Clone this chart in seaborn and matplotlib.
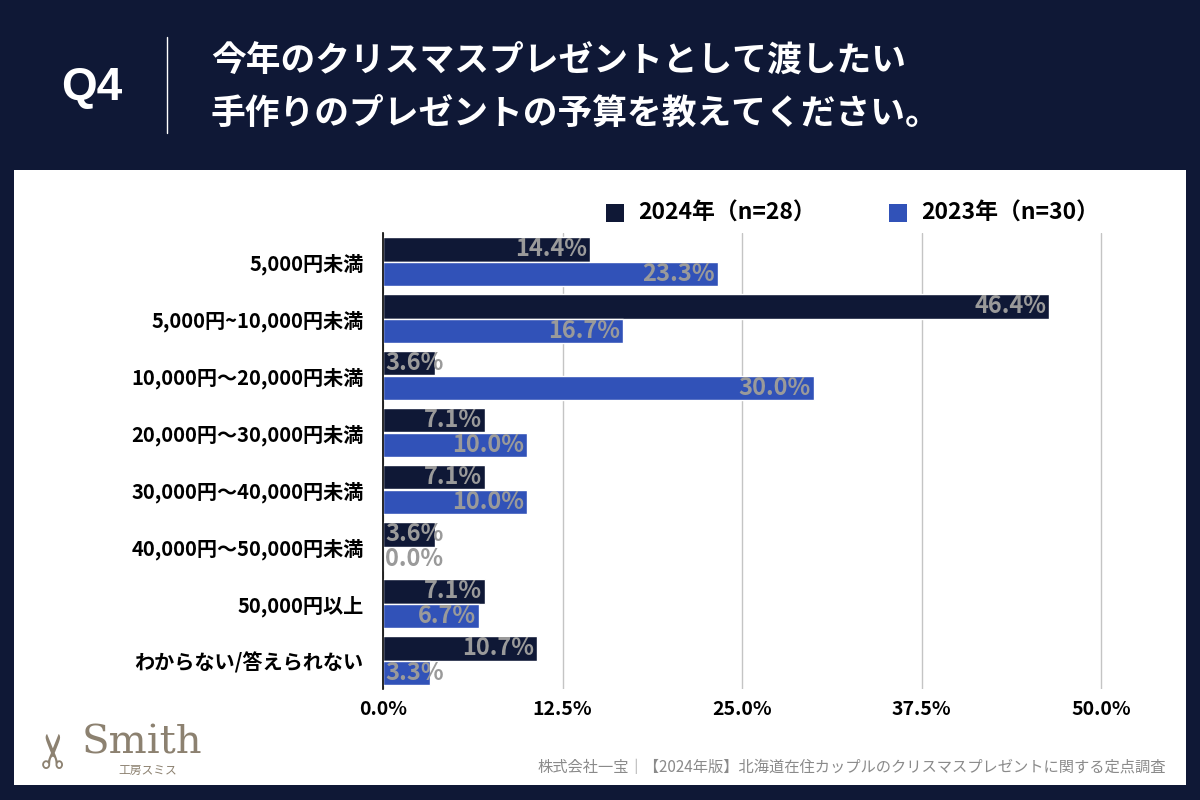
import pandas as pd
import matplotlib.pyplot as plt
import seaborn as sns
from matplotlib.patches import Rectangle

categories = ['5,000円未満', '5,000円~10,000円未満', '10,000円～20,000円未満',
              '20,000円～30,000円未満', '30,000円～40,000円未満',
              '40,000円～50,000円未満', '50,000円以上', 'わからない/答えられない']
series_names = ['2024年（n=28）', '2023年（n=30）']
values_2024 = [14.4, 46.4, 3.6, 7.1, 7.1, 3.6, 7.1, 10.7]
values_2023 = [23.3, 16.7, 30.0, 10.0, 10.0, 0.0, 6.7, 3.3]
x_ticks = [0, 12.5, 25.0, 37.5, 50.0]

NAVY = '#0f1836'
BLUE = '#3152b8'
LABEL_GRAY = '#9a9a9a'

sns.set_style('white')
plt.rcParams['font.family'] = ['Noto Sans CJK JP', 'DejaVu Sans']

df = pd.DataFrame({
    'category': categories * 2,
    'value': values_2024 + values_2023,
    'series': [series_names[0]] * len(categories) + [series_names[1]] * len(categories),
})

fig = plt.figure(figsize=(12, 8), dpi=100)
fig.patch.set_facecolor(NAVY)

# white panel
fig.patches.append(Rectangle((14 / 1200, 1 - 785 / 800), 1172 / 1200, 615 / 800,
                             transform=fig.transFigure, facecolor='white',
                             edgecolor='none', zorder=-10))

# header
fig.text(92 / 1200, 1 - 88 / 800, 'Q4', color='white', fontsize=33,
         fontweight='bold', ha='center', va='center', family='Liberation Sans')
fig.add_artist(plt.Line2D([167 / 1200, 167 / 1200], [1 - 37 / 800, 1 - 133 / 800],
                          transform=fig.transFigure, color='white', lw=1))
fig.text(211 / 1200, 1 - 60 / 800, '今年のクリスマスプレゼントとして渡したい',
         color='white', fontsize=25, fontweight='bold', va='center')
fig.text(211 / 1200, 1 - 113 / 800, '手作りのプレゼントの予算を教えてください。',
         color='white', fontsize=25, fontweight='bold', va='center')

ax = fig.add_axes([383 / 1200, 1 - 689 / 800, 797 / 1200, 456 / 800])
ax.set_facecolor('none')
sns.barplot(data=df, y='category', x='value', hue='series', orient='h',
            palette=[NAVY, BLUE], width=0.85, ax=ax, legend=False,
            saturation=1, zorder=3)

ax.set_xlim(0, 55.5)
ax.set_ylim(7.5, -0.5)
ax.set_xticks(x_ticks)
ax.set_xticklabels([f'{t:.1f}%' for t in x_ticks], fontsize=14, fontweight='bold')
ax.tick_params(axis='y', labelsize=14.5, length=0, pad=14, labelcolor='black')
ax.tick_params(axis='x', length=0, pad=8, labelcolor='black')
for lbl in ax.get_yticklabels():
    lbl.set_fontweight('bold')
ax.set_xlabel('')
ax.set_ylabel('')
ax.grid(axis='x', color='#c4c4c4', lw=1, zorder=0)
for s in ['top', 'right', 'bottom']:
    ax.spines[s].set_visible(False)
ax.spines['left'].set_color('black')
ax.spines['left'].set_linewidth(1.2)
ax.spines['left'].set_zorder(5)

for cont in ax.containers:
    for bar in cont:
        v = bar.get_width()
        yc = bar.get_y() + bar.get_height() / 2
        if v < 5:
            ax.text(0.15, yc, f'{v:.1f}%', ha='left', va='center', color=LABEL_GRAY,
                    fontsize=17, fontweight='bold', zorder=6)
        else:
            ax.text(v - 0.2, yc, f'{v:.1f}%', ha='right', va='center', color=LABEL_GRAY,
                    fontsize=17, fontweight='bold', zorder=6)

# legend
for xs, name, col in [(615, series_names[0], NAVY), (898, series_names[1], BLUE)]:
    fig.patches.append(Rectangle(((xs - 9) / 1200, 1 - 222 / 800), 18 / 1200, 18 / 800,
                                 transform=fig.transFigure, facecolor=col,
                                 edgecolor='none'))
    fig.text((xs + 23) / 1200, 1 - 213 / 800, name, fontsize=16.5, fontweight='bold',
             va='center', color='black')

# footer
fig.text(82 / 1200, 1 - 743 / 800, 'Smith', fontsize=29, family='DejaVu Serif',
         color='#8c8170', va='center')
fig.text(118 / 1200, 1 - 770 / 800, '工房スミス', fontsize=8.5, color='#8c8170',
         va='center')
fig.text(57 / 1200, 1 - 748 / 800, '✂', fontsize=34, family='DejaVu Sans',
         color='#8c8170', va='center', ha='center', rotation=90)
fig.text(1166 / 1200, 1 - 767 / 800,
         '株式会社一宝｜【2024年版】北海道在住カップルのクリスマスプレゼントに関する定点調査',
         fontsize=11, color='#8a8a8a', ha='right', va='center')

fig.savefig('out.png', dpi=100, facecolor=fig.get_facecolor())
